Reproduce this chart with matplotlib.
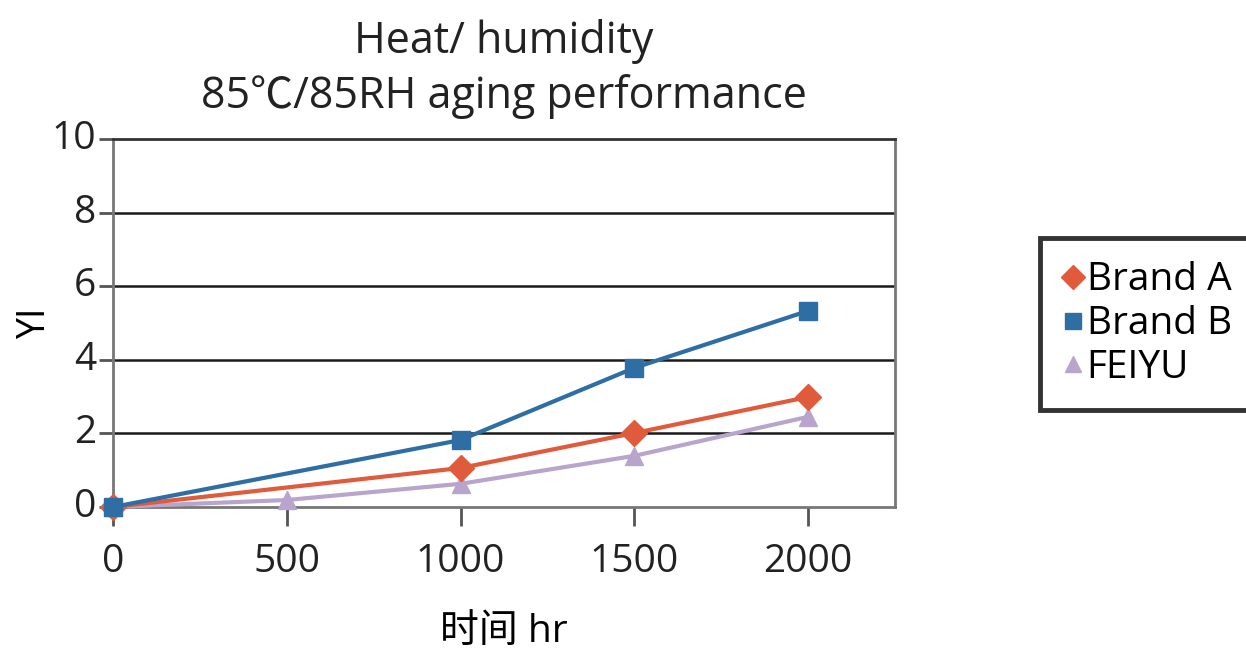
import matplotlib
matplotlib.use('Agg')
import matplotlib.pyplot as plt
from matplotlib.lines import Line2D

plt.rcParams['font.family'] = ['Open Sans', 'Noto Sans CJK SC', 'DejaVu Sans']

# data
hours_ab = [0, 1000, 1500, 2000]
brand_a = [0.0, 1.06, 2.01, 2.99]
brand_b = [0.0, 1.82, 3.78, 5.33]
hours_f = [0, 500, 1000, 1500, 2000]
feiyu = [0.0, 0.19, 0.63, 1.39, 2.45]

x_ticks = [0, 500, 1000, 1500, 2000]
y_ticks = [0, 2, 4, 6, 8, 10]

c_a = '#E05A3C'
c_b = '#2F6EA5'
c_f = '#B9A5CB'

fig = plt.figure(figsize=(12.46, 6.65), dpi=100)
ax = fig.add_axes([113 / 1246, 1 - 507 / 665, (895 - 113) / 1246, (507 - 139) / 665])

ax.plot(hours_f, feiyu, color=c_f, lw=3, marker='^', ms=13, zorder=3, clip_on=False)
ax.plot(hours_ab, brand_a, color=c_a, lw=3, marker='D', ms=13, zorder=4, clip_on=False)
ax.plot(hours_ab, brand_b, color=c_b, lw=3, marker='s', ms=13, zorder=5, clip_on=False)

ax.set_xlim(0, 2250)
ax.set_ylim(0, 10)
ax.set_xticks(x_ticks)
ax.set_yticks(y_ticks)
for y in y_ticks[1:-1]:
    ax.axhline(y, color='#1a1a1a', lw=1.8, zorder=1)

for s in ax.spines.values():
    s.set_color('#777777')
    s.set_linewidth(2)
ax.spines['top'].set_color('#333333')

ax.tick_params(axis='both', labelsize=28, color='#555555', width=2, length=14,
               direction='out', pad=12, labelcolor='#222222')
ax.tick_params(axis='y', length=10, pad=2)
for lbl in ax.get_yticklabels():
    lbl.set_verticalalignment('center')

ax.set_ylabel('YI', fontsize=27)
ax.yaxis.label.set_verticalalignment('center')
ax.yaxis.set_label_coords(-78 / 782, 0.5)
ax.set_xlabel('时间 hr', fontsize=28)
ax.xaxis.set_label_coords(0.5, -(632 - 507) / 368)
ax.xaxis.label.set_verticalalignment('center')
ax.set_title('Heat/ humidity\n85℃/85RH aging performance', fontsize=31,
             linespacing=1.3, pad=22, color='#222222')

handles = [
    Line2D([], [], ls='none', marker='D', color=c_a, ms=12, label='Brand A'),
    Line2D([], [], ls='none', marker='s', color=c_b, ms=11, label='Brand B'),
    Line2D([], [], ls='none', marker='^', color=c_f, ms=11, label='FEIYU'),
]
leg = fig.legend(handles=handles, loc='upper left', bbox_to_anchor=(1040 / 1246, 1 - 238 / 665),
                 fontsize=28, frameon=True, fancybox=False, handlelength=0.5,
                 handletextpad=0.1, labelspacing=0.15, borderpad=0.6, borderaxespad=0)
leg.get_frame().set_edgecolor('black')
leg.get_frame().set_linewidth(3.5)
leg._legend_box.align = 'left'

plt.savefig('out.png', dpi=100)
